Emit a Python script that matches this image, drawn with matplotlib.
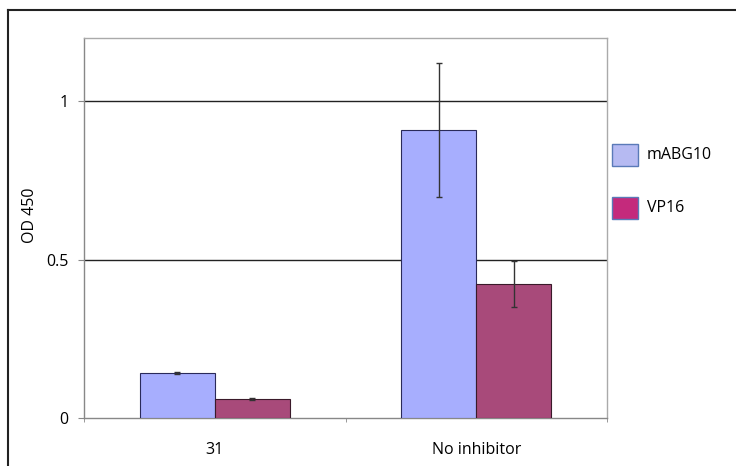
import matplotlib
matplotlib.use('Agg')
import matplotlib.pyplot as plt
import numpy as np
from matplotlib.patches import Rectangle

plt.rcParams['font.family'] = ['Open Sans', 'DejaVu Sans']

categories = ['31', 'No inhibitor']
series = ['mABG10', 'VP16']
mabg10 = [0.142, 0.910]
mabg10_err = [0.003, 0.212]
vp16 = [0.060, 0.423]
vp16_err = [0.002, 0.072]

bar_colors = ['#a7aefe', '#a84a7a']
legend_colors = ['#b6baf2', '#c42a7c']

fig = plt.figure(figsize=(7.36, 4.66), dpi=100)
ax = fig.add_axes([84/736, 48/466, 523/736, 380/466])

x = np.arange(len(categories))
w = 0.287
ax.bar(x - w/2, mabg10, w, color=bar_colors[0], edgecolor='#2a2a5a', linewidth=0.8,
       yerr=mabg10_err, error_kw=dict(ecolor='#333333', elinewidth=1, capsize=2.5, capthick=1), zorder=3)
ax.bar(x + w/2, vp16, w, color=bar_colors[1], edgecolor='#3a1a2a', linewidth=0.8,
       yerr=vp16_err, error_kw=dict(ecolor='#333333', elinewidth=1, capsize=2.5, capthick=1), zorder=3)

ax.set_xlim(-0.5, 1.5)
ax.set_ylim(0, 1.2)
ax.set_yticks([0, 0.5, 1])
ax.set_yticklabels(['0', '0.5', '1'])
ax.set_xticks(x)
ax.set_xticklabels(categories)
ax.set_xticks([-0.5, 0.5, 1.5], minor=True)
ax.tick_params(axis='x', which='major', length=0, labelsize=11.5, pad=17)
ax.tick_params(axis='x', which='minor', length=3, color='#888888')
ax.tick_params(axis='y', length=4, color='#888888', labelsize=11.5, pad=7)
for v in [0.5, 1]:
    ax.axhline(v, color='#222222', linewidth=1, zorder=1)
for s in ax.spines.values():
    s.set_color('#aaaaaa')
    s.set_linewidth(1)
ax.spines['bottom'].set_color('#888888')
ax.spines['left'].set_color('#888888')
ax.set_ylabel('OD 450', fontsize=11.5)
ax.yaxis.set_label_coords(-0.088, 0.534)

# legend
for i, (name, c) in enumerate(zip(series, legend_colors)):
    y0 = 1 - (155 + 53*i)/466
    fig.patches.append(Rectangle((612/736, y0 - 11/466), 26/736, 22/466, transform=fig.transFigure,
                                 facecolor=c, edgecolor='#5a7ab8', linewidth=1))
    fig.text(647/736, y0, name, fontsize=11.5, va='center', ha='left')

# outer frame
fig.add_artist(plt.Line2D([8/736, 8/736], [0, 1 - 10/466], transform=fig.transFigure, color='#222222', linewidth=1.5))
fig.add_artist(plt.Line2D([8/736, 1], [1 - 10/466, 1 - 10/466], transform=fig.transFigure, color='#222222', linewidth=1.5))

fig.savefig('out.png', dpi=100)
